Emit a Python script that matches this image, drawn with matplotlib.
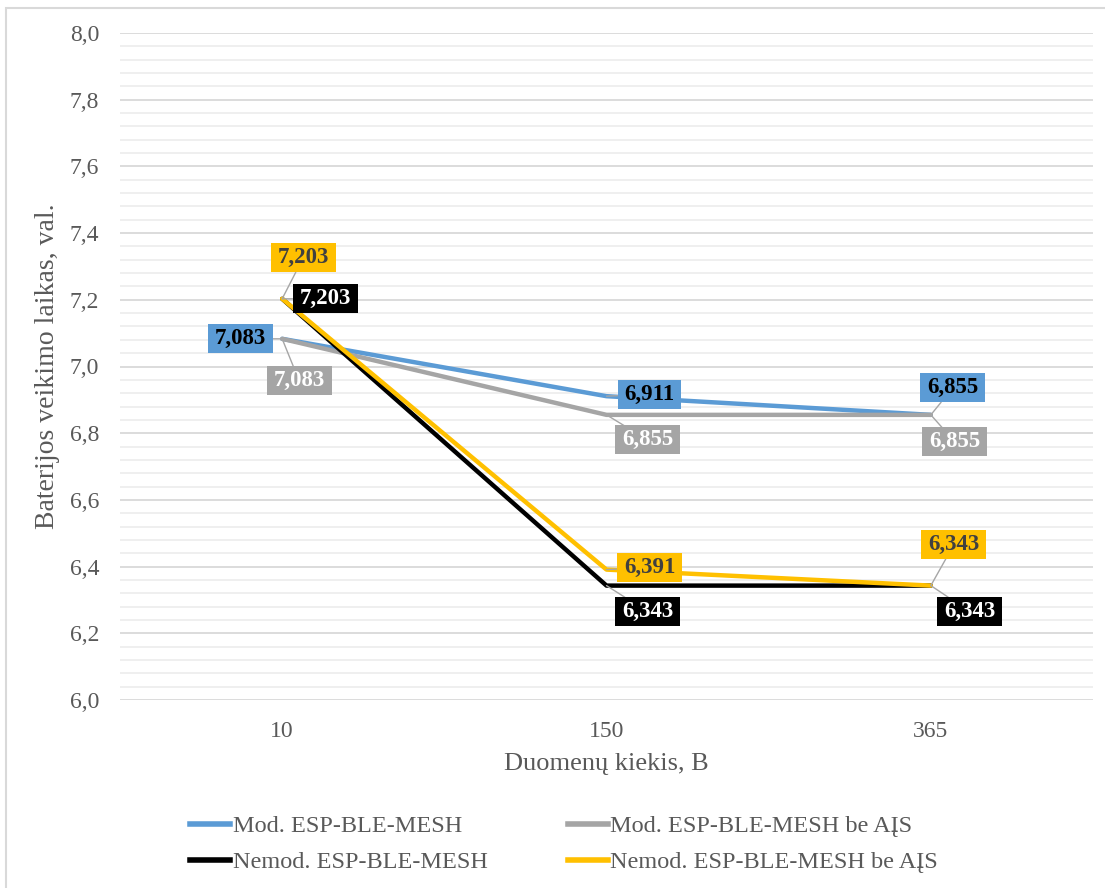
import matplotlib
matplotlib.use("Agg")
import matplotlib.pyplot as plt
from matplotlib.path import Path
from matplotlib.patches import Rectangle
from matplotlib.lines import Line2D
from matplotlib.ticker import MultipleLocator, FuncFormatter

# ---- data ----
categories = ["10", "150", "365"]
series_names = [
    "Mod. ESP-BLE-MESH",
    "Mod. ESP-BLE-MESH be AĮS",
    "Nemod. ESP-BLE-MESH",
    "Nemod. ESP-BLE-MESH be AĮS",
]
mod_values = [7.083, 6.911, 6.855]
mod_no_ais_values = [7.083, 6.855, 6.855]
nemod_values = [7.203, 6.343, 6.343]
nemod_no_ais_values = [7.203, 6.391, 6.343]

x_title = "Duomenų kiekis, B"
y_title = "Baterijos veikimo laikas, val."

# ---- styling ----
colors = ["#5B9BD5", "#A5A5A5", "#000000", "#FFC000"]
label_text_colors = ["#000000", "#FFFFFF", "#FFFFFF", "#404040"]
TXT = "#595959"
FONT = "Liberation Serif"

# label offsets (pixels) from each point, per series
label_offsets = [
    [(-42, 0), (43, 2), (22, 27)],
    [(17, -42), (41, -25), (24, -27)],
    [(43, 0), (41, -26), (39, -26)],
    [(21, 41), (43, 2), (23, 41)],
]

W, H = 1105, 888
fig = plt.figure(figsize=(W / 100, H / 100), dpi=100)
plt.rcParams["font.family"] = FONT

# outer chart frame
fig.add_artist(Rectangle((6 / W, -0.1), 1.2, (H - 8) / H + 0.1, transform=fig.transFigure,
                         fill=False, edgecolor="#D9D9D9", linewidth=1.5))

ax_l, ax_r, ax_t, ax_b = 120, 1093, 33, 700
ax = fig.add_axes([ax_l / W, (H - ax_b) / H, (ax_r - ax_l) / W, (ax_b - ax_t) / H])

x = list(range(len(categories)))
all_series = [mod_values, mod_no_ais_values, nemod_values, nemod_no_ais_values]

for i, vals in enumerate(all_series):
    ax.plot(x, vals, color=colors[i], linewidth=3.2, solid_capstyle="round",
            solid_joinstyle="round", zorder=3 + i, label=series_names[i])


def label_box(x0, y0, width, height, mutation_size):
    padx = 0.30 * mutation_size
    pady = 0.17 * mutation_size
    x0 -= padx
    y0 -= pady
    x1 = x0 + width + 2 * padx
    y1 = y0 + height + 2 * pady
    return Path([(x0, y0), (x1, y0), (x1, y1), (x0, y1), (x0, y0)], closed=True)


for i, vals in enumerate(all_series):
    for j, v in enumerate(vals):
        dx, dy = label_offsets[i][j]
        ax.annotate(
            f"{v:.3f}".replace(".", ","),
            xy=(j, v), xytext=(dx, dy), textcoords="offset pixels",
            ha="center", va="center", fontsize=16.5, fontweight="bold",
            family=FONT, color=label_text_colors[i], zorder=10,
            bbox=dict(boxstyle=label_box, facecolor=colors[i], edgecolor="none"),
            arrowprops=dict(arrowstyle="-", color="#A6A6A6", lw=1.0,
                            shrinkA=0, shrinkB=0),
        )

ax.set_xlim(-0.5, len(categories) - 0.5)
ax.set_ylim(6.0, 8.0)
ax.yaxis.set_major_locator(MultipleLocator(0.2))
ax.yaxis.set_minor_locator(MultipleLocator(0.04))
ax.yaxis.set_major_formatter(FuncFormatter(lambda v, p: f"{v:.1f}".replace(".", ",")))
ax.set_xticks(x)
ax.set_xticklabels(categories)
ax.grid(which="major", axis="y", color="#D9D9D9", linewidth=1.3, zorder=0)
ax.grid(which="minor", axis="y", color="#EEEEEE", linewidth=1.3, zorder=0)
ax.set_axisbelow(True)
for s in ax.spines.values():
    s.set_visible(False)
ax.tick_params(axis="both", which="both", length=0, labelsize=17, labelcolor=TXT)
ax.tick_params(axis="y", pad=15)
ax.tick_params(axis="x", pad=15)
for t in ax.get_xticklabels() + ax.get_yticklabels():
    t.set_family(FONT)

ax.set_xlabel(x_title, fontsize=19, color=TXT, family=FONT)
ax.set_ylabel(y_title, fontsize=20, color=TXT, family=FONT)
ax.xaxis.set_label_coords(0.5, -0.080)
ax.yaxis.set_label_coords(-0.062, 0.5)

handles = [Line2D([], [], color=c, linewidth=4) for c in colors]
order = [0, 2, 1, 3]
fig.legend([handles[k] for k in order], [series_names[k] for k in order],
           loc="upper left", bbox_to_anchor=(190 / W, (H - 815) / H), ncol=2,
           frameon=False, prop={"family": FONT, "size": 17.5}, labelcolor=TXT,
           handlelength=1.65, handletextpad=0.1, columnspacing=3.3,
           labelspacing=0.58, borderpad=0, borderaxespad=0)

fig.savefig("out.png", dpi=100)
